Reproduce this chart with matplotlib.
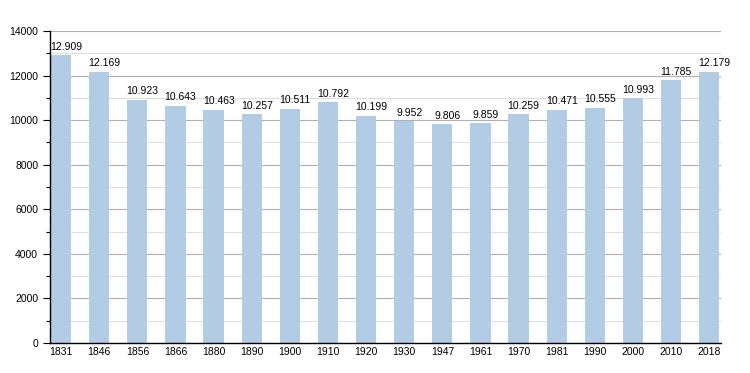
import numpy as np
import matplotlib
matplotlib.use('Agg')
import matplotlib.pyplot as plt
from matplotlib.ticker import MultipleLocator

years = ['1831', '1846', '1856', '1866', '1880', '1890', '1900', '1910', '1920',
         '1930', '1947', '1961', '1970', '1981', '1990', '2000', '2010', '2018']
population = [12909, 12169, 10923, 10643, 10463, 10257, 10511, 10792, 10199,
              9952, 9806, 9859, 10259, 10471, 10555, 10993, 11785, 12179]
labels = ['12.909', '12.169', '10.923', '10.643', '10.463', '10.257', '10.511',
          '10.792', '10.199', '9.952', '9.806', '9.859', '10.259', '10.471',
          '10.555', '10.993', '11.785', '12.179']

plt.rcParams['font.family'] = ['Liberation Sans', 'DejaVu Sans']

fig = plt.figure(figsize=(7.5, 3.73), dpi=100)
ax = fig.add_axes([0.0667, 0.0804, 0.8947, 0.8365])

x = np.arange(len(years))
ax.bar(x, population, width=0.53, color='#b3cce6', zorder=2)

# value labels above bars (slightly right of centre, as in the original)
for xi, v, lab in zip(x, population, labels):
    ax.annotate(lab, (xi, v), xytext=(3.6, 2.5), textcoords='offset points',
                ha='center', va='bottom', fontsize=7.5, zorder=3)

ax.set_ylim(0, 14000)
ax.set_xlim(-0.29, len(years) - 1 + 0.31)
ax.yaxis.set_major_locator(MultipleLocator(2000))
ax.yaxis.set_minor_locator(MultipleLocator(1000))
ax.grid(axis='y', which='major', color='#b0b0b0', linewidth=0.8, zorder=0)
ax.grid(axis='y', which='minor', color='#dedede', linewidth=0.8, zorder=0)

ax.set_xticks(x)
ax.set_xticklabels(years)
ax.tick_params(axis='x', length=0, pad=3, labelsize=7.5)
ax.tick_params(axis='y', which='major', length=5, width=0.8, labelsize=7.5)
ax.tick_params(axis='y', which='minor', length=3, width=0.8)

for s in ['top', 'right']:
    ax.spines[s].set_visible(False)
ax.spines['left'].set_linewidth(1.0)
ax.spines['bottom'].set_linewidth(1.0)

plt.savefig('out.png', dpi=100)
